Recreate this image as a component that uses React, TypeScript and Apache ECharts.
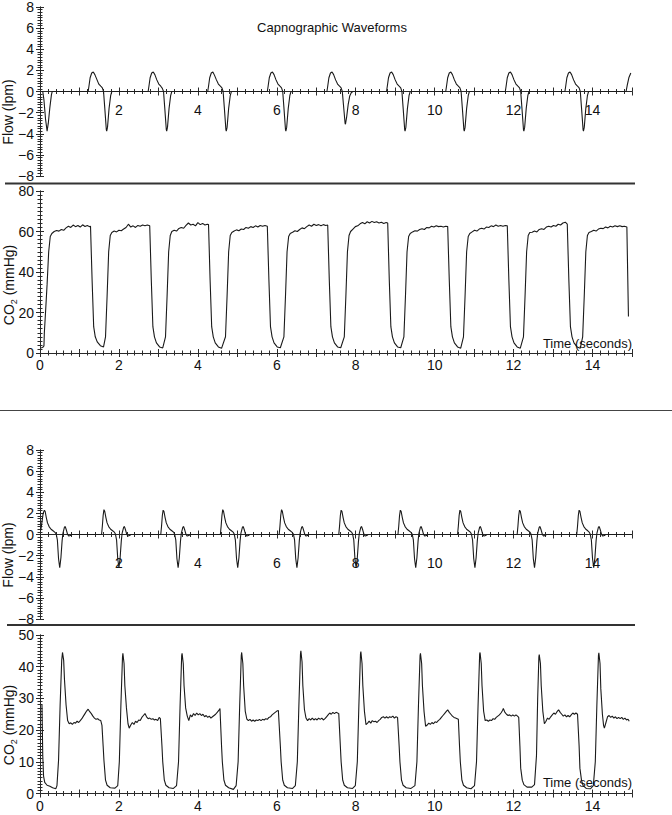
import React, { useEffect, useRef } from 'react';
import * as echarts from 'echarts';

// ---------- tick labels ----------
const X_LABELS_CO2 = [0, 2, 4, 6, 8, 10, 12, 14];
const X_LABELS_FLOW = [2, 4, 6, 8, 10, 12, 14];
const FLOW_TICKS = [-8, -6, -4, -2, 0, 2, 4, 6, 8];
const CO2_TOP_TICKS = [0, 20, 40, 60, 80];
const CO2_BOTTOM_TICKS = [0, 10, 20, 30, 40, 50];

// ---------- series values: [time (s), value] ----------
const FLOW_TOP: [number, number][] = [
  [0.02, 0], [0.07, 0], [0.10, -0.8], [0.14, -2.6], [0.18, -3.75], [0.21, -3.0], [0.25, -1.5], [0.29, -0.3], [0.31, 0],
  [1.22, 0], [1.24, 0.5], [1.27, 1.3], [1.31, 1.75], [1.35, 1.85], [1.39, 1.6], [1.44, 1.15], [1.49, 0.7], [1.54, 0.5], [1.58, 0.35], [1.61, 0], [1.64, -1.5], [1.68, -3.6], [1.69, -3.75], [1.71, -3.4], [1.75, -1.6], [1.79, -0.4], [1.82, 0],
  [2.74, 0], [2.76, 0.5], [2.79, 1.3], [2.83, 1.75], [2.87, 1.85], [2.91, 1.6], [2.96, 1.1], [3.01, 0.7], [3.06, 0.5], [3.10, 0.3], [3.13, 0], [3.16, -1.5], [3.20, -3.6], [3.21, -3.75], [3.23, -3.4], [3.27, -1.6], [3.31, -0.4], [3.34, 0],
  [4.25, 0], [4.27, 0.5], [4.30, 1.3], [4.34, 1.75], [4.38, 1.85], [4.42, 1.55], [4.47, 1.1], [4.52, 0.7], [4.57, 0.5], [4.61, 0.35], [4.64, 0], [4.67, -1.5], [4.71, -3.6], [4.72, -3.75], [4.74, -3.4], [4.78, -1.6], [4.82, -0.4], [4.85, 0],
  [5.76, 0], [5.78, 0.5], [5.81, 1.3], [5.85, 1.75], [5.89, 1.85], [5.93, 1.6], [5.98, 1.1], [6.03, 0.7], [6.08, 0.5], [6.12, 0.35], [6.15, 0], [6.18, -1.5], [6.22, -3.6], [6.23, -3.75], [6.25, -3.4], [6.29, -1.6], [6.33, -0.4], [6.36, 0],
  [7.27, 0], [7.29, 0.5], [7.32, 1.3], [7.36, 1.75], [7.40, 1.85], [7.44, 1.6], [7.49, 1.1], [7.54, 0.7], [7.59, 0.5], [7.63, 0.35], [7.66, 0], [7.69, -1.3], [7.73, -3.0], [7.74, -3.1], [7.77, -2.4], [7.81, -1.2], [7.85, -0.4], [7.89, -0.1], [7.93, 0],
  [8.78, 0], [8.80, 0.5], [8.83, 1.3], [8.87, 1.75], [8.91, 1.85], [8.95, 1.6], [9.00, 1.1], [9.05, 0.7], [9.10, 0.5], [9.14, 0.35], [9.17, 0], [9.20, -1.5], [9.24, -3.6], [9.25, -3.75], [9.27, -3.4], [9.31, -1.6], [9.35, -0.4], [9.38, 0],
  [10.28, 0], [10.30, 0.5], [10.33, 1.3], [10.37, 1.75], [10.41, 1.85], [10.45, 1.6], [10.50, 1.1], [10.55, 0.7], [10.60, 0.5], [10.64, 0.35], [10.67, 0], [10.70, -1.5], [10.74, -3.6], [10.75, -3.75], [10.77, -3.4], [10.81, -1.6], [10.85, -0.4], [10.88, 0],
  [11.79, 0], [11.81, 0.5], [11.84, 1.3], [11.88, 1.75], [11.92, 1.85], [11.96, 1.6], [12.01, 1.1], [12.06, 0.7], [12.11, 0.5], [12.15, 0.35], [12.18, 0], [12.21, -1.5], [12.25, -3.6], [12.26, -3.75], [12.28, -3.4], [12.32, -1.6], [12.36, -0.4], [12.39, 0],
  [13.30, 0], [13.32, 0.5], [13.35, 1.3], [13.39, 1.75], [13.43, 1.85], [13.47, 1.6], [13.52, 1.1], [13.57, 0.7], [13.62, 0.5], [13.66, 0.35], [13.69, 0], [13.72, -1.5], [13.76, -3.6], [13.77, -3.75], [13.79, -3.4], [13.83, -1.6], [13.87, -0.4], [13.90, 0],
  [14.85, 0], [14.88, 0.6], [14.92, 1.3], [14.97, 1.75],
];

const CO2_TOP: [number, number][] = [
  [0.03, 2.5], [0.07, 2.8], [0.10, 3.5], [0.11, 10], [0.14, 20], [0.18, 34], [0.22, 50], [0.26, 57.5], [0.30, 59],
  [0.36, 60], [0.42, 60.5], [0.48, 60.2], [0.54, 61], [0.60, 60.6], [0.66, 61.8], [0.72, 62.6], [0.78, 62], [0.84, 63.2], [0.90, 62.4], [0.96, 63], [1.02, 62.2], [1.08, 63.3], [1.14, 62.5], [1.20, 63], [1.25, 62.4], [1.28, 62.6],
  [1.32, 36], [1.36, 13], [1.40, 8], [1.45, 5.5], [1.53, 3.6], [1.61, 3], [1.66, 8], [1.70, 28], [1.74, 50], [1.78, 58], [1.82, 59.5],
  [1.88, 60.2], [1.94, 59.8], [2.00, 60.6], [2.06, 60.4], [2.12, 61.2], [2.18, 62], [2.24, 63.6], [2.30, 62.2], [2.36, 62.8], [2.42, 62], [2.48, 63], [2.54, 62.6], [2.60, 63.2], [2.66, 62.8], [2.72, 63.2], [2.78, 62.8],
  [2.82, 36], [2.86, 13], [2.90, 8], [2.95, 5], [3.03, 3], [3.11, 2.5], [3.18, 8], [3.22, 28], [3.26, 50], [3.30, 58], [3.34, 60],
  [3.40, 60.6], [3.46, 60.2], [3.52, 61.5], [3.58, 62], [3.64, 61.6], [3.70, 63], [3.76, 64.2], [3.82, 63.2], [3.88, 63.6], [3.94, 62.8], [4.00, 64.4], [4.06, 63.4], [4.12, 64], [4.18, 63.2], [4.24, 63.6], [4.27, 63.4],
  [4.31, 36], [4.35, 13], [4.39, 8], [4.44, 5], [4.52, 3], [4.60, 2.3], [4.70, 8], [4.74, 28], [4.78, 50], [4.82, 58], [4.86, 59.5],
  [4.92, 60.2], [4.98, 60.8], [5.04, 60.4], [5.10, 61.2], [5.16, 61], [5.22, 62], [5.28, 61.6], [5.34, 62.4], [5.40, 62], [5.46, 62.8], [5.52, 62.2], [5.58, 63], [5.64, 62.6], [5.70, 63], [5.76, 62.6],
  [5.80, 36], [5.84, 13], [5.88, 8], [5.93, 5], [6.01, 3], [6.09, 2.6], [6.18, 8], [6.22, 28], [6.26, 50], [6.30, 57.5], [6.34, 59],
  [6.40, 59.6], [6.46, 60.4], [6.52, 60], [6.58, 61], [6.64, 61.8], [6.70, 61.4], [6.76, 62.4], [6.82, 63.2], [6.88, 62.6], [6.94, 63.6], [7.00, 63], [7.06, 63.4], [7.12, 62.8], [7.18, 63.4], [7.24, 63], [7.29, 63.2],
  [7.33, 36], [7.37, 13], [7.41, 8], [7.46, 5], [7.54, 3], [7.62, 2.6], [7.71, 8], [7.75, 28], [7.79, 50], [7.83, 58], [7.87, 60],
  [7.93, 61.2], [7.99, 62.4], [8.05, 62.8], [8.11, 63.8], [8.17, 64.4], [8.23, 63.8], [8.29, 64.8], [8.35, 64.2], [8.41, 65], [8.47, 64.4], [8.53, 64.8], [8.59, 64.2], [8.65, 64.6], [8.71, 64], [8.77, 64.4], [8.81, 64.2],
  [8.85, 36], [8.89, 13], [8.93, 8], [8.98, 5], [9.06, 3], [9.14, 2.6], [9.22, 8], [9.26, 28], [9.30, 50], [9.34, 57.5], [9.38, 59],
  [9.44, 59.8], [9.50, 60.4], [9.56, 60.2], [9.62, 61], [9.68, 61.4], [9.74, 61], [9.80, 62], [9.86, 61.8], [9.92, 62.6], [9.98, 62.2], [10.04, 62.8], [10.10, 62.4], [10.16, 62.6], [10.22, 62.2], [10.28, 62.6], [10.33, 62.4],
  [10.37, 36], [10.41, 13], [10.45, 8], [10.50, 5], [10.58, 3], [10.66, 2.4], [10.73, 8], [10.77, 28], [10.81, 50], [10.85, 57.5], [10.89, 59],
  [10.95, 59.8], [11.01, 60.6], [11.07, 60.2], [11.13, 61.2], [11.19, 61.6], [11.25, 61.2], [11.31, 62.2], [11.37, 62], [11.43, 62.8], [11.49, 62.4], [11.55, 63.2], [11.61, 62.6], [11.67, 63], [11.73, 62.6], [11.79, 63], [11.84, 62.8],
  [11.88, 36], [11.92, 13], [11.96, 8], [12.01, 5], [12.09, 3], [12.17, 2.4], [12.25, 8], [12.29, 28], [12.33, 50], [12.37, 58], [12.41, 59.5],
  [12.47, 59.6], [12.53, 60.2], [12.59, 59.8], [12.65, 61], [12.71, 61.4], [12.77, 61], [12.83, 62.2], [12.89, 62.6], [12.95, 62.2], [13.01, 63], [13.07, 62.6], [13.13, 63.6], [13.19, 63.2], [13.25, 64.2], [13.31, 64.6], [13.36, 63.6],
  [13.40, 36], [13.44, 13], [13.48, 8], [13.53, 5], [13.61, 3], [13.69, 2.4], [13.75, 8], [13.79, 28], [13.83, 50], [13.87, 58], [13.91, 59.5],
  [13.97, 60], [14.03, 60.6], [14.09, 60.2], [14.15, 61.2], [14.21, 61.6], [14.27, 61.4], [14.33, 62.2], [14.39, 61.8], [14.45, 62.6], [14.51, 62.2], [14.57, 62.8], [14.63, 62.4], [14.69, 62.8], [14.75, 62.4], [14.81, 62.6], [14.87, 62.2],
  [14.89, 40], [14.91, 18],
];

const FLOW_BOTTOM: [number, number][] = [
  [0.02, 0.4], [0.05, 1.2], [0.08, 2.0], [0.11, 2.3], [0.13, 2.2], [0.16, 1.6], [0.19, 1.1], [0.23, 0.75], [0.28, 0.5], [0.33, 0.35], [0.38, 0.2], [0.41, 0.05], [0.44, -0.5], [0.47, -2.3], [0.50, -3.15], [0.53, -2.2], [0.56, -0.6], [0.58, 0.1], [0.62, 0.7], [0.64, 0.75], [0.67, 0.4], [0.70, 0], [0.73, -0.15], [0.77, -0.1], [0.80, 0],
  [1.56, 0], [1.58, 0.8], [1.60, 1.8], [1.62, 2.35], [1.64, 2.2], [1.67, 1.6], [1.70, 1.1], [1.74, 0.75], [1.79, 0.5], [1.84, 0.35], [1.89, 0.2], [1.91, 0.05], [1.94, -0.5], [1.97, -2.3], [2.00, -3.15], [2.03, -2.2], [2.06, -0.6], [2.08, 0.1], [2.12, 0.7], [2.14, 0.75], [2.17, 0.4], [2.20, 0], [2.23, -0.15], [2.27, -0.1], [2.30, 0],
  [3.06, 0], [3.08, 0.8], [3.10, 1.8], [3.12, 2.3], [3.14, 2.2], [3.17, 1.6], [3.20, 1.1], [3.24, 0.75], [3.29, 0.5], [3.34, 0.35], [3.39, 0.2], [3.41, 0.05], [3.44, -0.5], [3.47, -2.3], [3.50, -3.15], [3.53, -2.2], [3.56, -0.6], [3.58, 0.1], [3.62, 0.7], [3.64, 0.75], [3.67, 0.4], [3.70, 0], [3.73, -0.15], [3.77, -0.1], [3.80, 0],
  [4.57, 0], [4.59, 0.8], [4.61, 1.8], [4.63, 2.35], [4.65, 2.2], [4.68, 1.6], [4.71, 1.1], [4.75, 0.75], [4.80, 0.5], [4.85, 0.35], [4.90, 0.2], [4.92, 0.05], [4.95, -0.5], [4.98, -2.3], [5.01, -3.15], [5.04, -2.2], [5.07, -0.6], [5.09, 0.1], [5.13, 0.7], [5.15, 0.75], [5.18, 0.4], [5.21, 0], [5.24, -0.15], [5.28, -0.1], [5.31, 0],
  [6.06, 0], [6.08, 0.8], [6.10, 1.8], [6.12, 2.35], [6.14, 2.2], [6.17, 1.6], [6.20, 1.1], [6.24, 0.75], [6.29, 0.5], [6.34, 0.35], [6.39, 0.2], [6.42, 0.05], [6.45, -0.5], [6.48, -2.3], [6.51, -3.15], [6.54, -2.2], [6.57, -0.6], [6.59, 0.1], [6.63, 0.7], [6.65, 0.75], [6.68, 0.4], [6.71, 0], [6.74, -0.15], [6.78, -0.1], [6.81, 0],
  [7.57, 0], [7.59, 0.8], [7.61, 1.8], [7.63, 2.3], [7.65, 2.2], [7.68, 1.6], [7.71, 1.1], [7.75, 0.75], [7.80, 0.5], [7.85, 0.35], [7.90, 0.2], [7.92, 0.05], [7.95, -0.5], [7.98, -2.3], [8.01, -3.15], [8.04, -2.2], [8.07, -0.6], [8.09, 0.1], [8.13, 0.7], [8.15, 0.75], [8.18, 0.4], [8.21, 0], [8.24, -0.15], [8.28, -0.1], [8.31, 0],
  [9.07, 0], [9.09, 0.8], [9.11, 1.8], [9.13, 2.3], [9.15, 2.2], [9.18, 1.6], [9.21, 1.1], [9.25, 0.75], [9.30, 0.5], [9.35, 0.35], [9.40, 0.2], [9.43, 0.05], [9.46, -0.5], [9.49, -2.3], [9.52, -3.15], [9.55, -2.2], [9.58, -0.6], [9.60, 0.1], [9.64, 0.7], [9.66, 0.75], [9.69, 0.4], [9.72, 0], [9.75, -0.15], [9.79, -0.1], [9.82, 0],
  [10.58, 0], [10.60, 0.8], [10.62, 1.8], [10.64, 2.3], [10.66, 2.2], [10.69, 1.6], [10.72, 1.1], [10.76, 0.75], [10.81, 0.5], [10.86, 0.35], [10.91, 0.2], [10.93, 0.05], [10.96, -0.5], [10.99, -2.3], [11.02, -3.15], [11.05, -2.2], [11.08, -0.6], [11.10, 0.1], [11.14, 0.7], [11.16, 0.75], [11.19, 0.4], [11.22, 0], [11.25, -0.15], [11.29, -0.1], [11.32, 0],
  [12.09, 0], [12.11, 0.8], [12.13, 1.8], [12.15, 2.3], [12.17, 2.2], [12.20, 1.6], [12.23, 1.1], [12.27, 0.75], [12.32, 0.5], [12.37, 0.35], [12.42, 0.2], [12.44, 0.05], [12.47, -0.5], [12.50, -2.3], [12.53, -3.15], [12.56, -2.2], [12.59, -0.6], [12.61, 0.1], [12.65, 0.7], [12.67, 0.75], [12.70, 0.4], [12.73, 0], [12.76, -0.15], [12.80, -0.1], [12.83, 0],
  [13.60, 0], [13.62, 0.8], [13.64, 1.8], [13.66, 2.3], [13.68, 2.2], [13.71, 1.6], [13.74, 1.1], [13.78, 0.75], [13.83, 0.5], [13.88, 0.35], [13.92, 0.2], [13.94, 0.05], [13.97, -0.5], [14.00, -2.3], [14.03, -3.15], [14.06, -2.2], [14.09, -0.6], [14.11, 0.1], [14.15, 0.7], [14.17, 0.75], [14.20, 0.4], [14.23, 0], [14.26, -0.15], [14.30, -0.1], [14.33, 0], [14.98, 0],
];

const CO2_BOTTOM: [number, number][] = [
  [0.05, 28], [0.07, 12], [0.09, 5.5], [0.12, 3.5], [0.18, 2.6], [0.25, 2.3], [0.32, 1.8], [0.40, 1.5], [0.43, 2.5], [0.47, 10.5], [0.51, 28], [0.55, 42], [0.57, 44.5], [0.60, 42], [0.62, 36], [0.66, 28], [0.70, 23], [0.74, 22],
  [0.78, 22.3], [0.82, 21.8], [0.86, 22.4], [0.90, 22.2], [0.94, 22.8], [0.98, 22.4], [1.02, 23], [1.06, 23.6], [1.10, 24.4], [1.14, 25.2], [1.18, 26], [1.22, 26.6], [1.26, 25.8], [1.30, 25.2], [1.34, 24.4], [1.38, 23.8], [1.42, 23.4], [1.46, 23.6], [1.50, 23.2], [1.54, 23], [1.57, 21.5],
  [1.60, 15], [1.62, 10.5], [1.66, 4.2], [1.70, 2.6], [1.78, 1.8], [1.90, 1.7], [1.97, 2.5], [2.01, 10], [2.05, 28], [2.09, 43], [2.10, 44.2], [2.13, 41], [2.15, 34], [2.19, 27], [2.23, 22], [2.26, 20.6],
  [2.30, 21.6], [2.34, 22.4], [2.38, 21.8], [2.42, 22.8], [2.46, 22.4], [2.50, 23.2], [2.54, 23], [2.58, 24], [2.62, 24.6], [2.66, 25.2], [2.70, 24.2], [2.74, 23.6], [2.78, 23.8], [2.82, 23.4], [2.86, 23.6], [2.90, 23.2], [2.94, 23.4], [2.98, 23], [3.02, 24], [3.05, 23.6],
  [3.09, 15], [3.11, 10], [3.15, 4.2], [3.19, 2.6], [3.27, 1.8], [3.38, 1.6], [3.46, 2.5], [3.51, 10], [3.55, 28], [3.59, 43.5], [3.60, 44.2], [3.63, 41], [3.65, 34], [3.69, 27], [3.73, 24.5],
  [3.77, 23], [3.81, 24.8], [3.85, 24.2], [3.89, 25.2], [3.93, 24.6], [3.97, 25.4], [4.01, 24.8], [4.05, 25.2], [4.09, 24.6], [4.13, 25], [4.17, 24.2], [4.21, 24.6], [4.25, 24], [4.29, 24.4], [4.33, 23.8], [4.37, 24.2], [4.41, 24.6], [4.45, 25], [4.49, 25.6], [4.53, 26.2], [4.56, 26.8],
  [4.60, 15], [4.62, 10], [4.66, 4.2], [4.70, 2.6], [4.78, 1.8], [4.90, 1.3], [4.97, 2.5], [5.02, 10], [5.06, 28], [5.10, 43.5], [5.11, 44.5], [5.14, 41], [5.16, 34], [5.20, 26], [5.24, 23.5],
  [5.28, 23], [5.32, 23.4], [5.36, 22.8], [5.40, 23.2], [5.44, 22.8], [5.48, 23.2], [5.52, 23], [5.56, 23.4], [5.60, 23], [5.64, 23.4], [5.68, 23.2], [5.72, 23.6], [5.76, 23.4], [5.80, 24], [5.84, 24.2], [5.88, 24.8], [5.92, 25.2], [5.96, 25.6], [6.00, 26], [6.04, 26.2],
  [6.09, 15], [6.11, 10], [6.15, 4.2], [6.19, 2.6], [6.27, 1.8], [6.40, 1.6], [6.47, 2.5], [6.52, 10], [6.56, 28], [6.60, 44], [6.61, 45], [6.64, 41.5], [6.66, 34], [6.70, 26.5], [6.74, 23.8],
  [6.78, 23], [6.82, 23.6], [6.86, 23.2], [6.90, 23.8], [6.94, 23.2], [6.98, 23.6], [7.02, 23.2], [7.06, 23.8], [7.10, 23.4], [7.14, 23.8], [7.18, 23.2], [7.22, 23.6], [7.26, 24.2], [7.30, 24.8], [7.34, 25.4], [7.38, 25], [7.42, 25.6], [7.46, 25.2], [7.50, 25.6], [7.54, 25.4], [7.57, 25.2],
  [7.61, 15], [7.63, 10], [7.67, 4.2], [7.71, 2.6], [7.79, 1.8], [7.92, 1.6], [7.99, 2.5], [8.04, 10], [8.08, 28], [8.12, 44], [8.13, 44.8], [8.16, 41], [8.18, 34], [8.22, 26], [8.26, 21.7],
  [8.30, 22.2], [8.34, 22.8], [8.38, 22.2], [8.42, 23], [8.46, 22.6], [8.50, 22.8], [8.54, 22.4], [8.58, 23], [8.62, 23.4], [8.66, 24], [8.70, 24.2], [8.74, 23.8], [8.78, 24.2], [8.82, 23.8], [8.86, 24.2], [8.90, 24], [8.94, 24.4], [8.98, 23.8], [9.02, 24.2], [9.06, 24],
  [9.10, 15], [9.12, 10], [9.16, 4.2], [9.20, 2.6], [9.28, 1.8], [9.40, 1.6], [9.50, 2.5], [9.55, 10], [9.59, 28], [9.63, 43.5], [9.64, 44.2], [9.67, 41], [9.69, 34], [9.73, 26], [9.77, 21.2],
  [9.81, 21.6], [9.85, 22.2], [9.89, 21.8], [9.93, 22.4], [9.97, 22], [10.01, 22.6], [10.05, 22.4], [10.09, 23], [10.13, 23.4], [10.17, 24], [10.21, 24.6], [10.25, 25.2], [10.29, 25.8], [10.33, 26.4], [10.37, 25.6], [10.41, 25], [10.45, 24.4], [10.49, 24], [10.53, 23.8], [10.57, 23.6], [10.60, 23.4],
  [10.63, 15], [10.65, 10], [10.69, 4.2], [10.73, 2.6], [10.81, 1.8], [10.92, 1.5], [11.01, 2.5], [11.06, 10], [11.10, 28], [11.14, 44], [11.15, 44.5], [11.18, 41], [11.20, 34], [11.24, 26], [11.28, 23],
  [11.32, 23.2], [11.36, 22.8], [11.40, 23.2], [11.44, 23], [11.48, 23.6], [11.52, 23.4], [11.56, 24], [11.60, 24.4], [11.64, 24.8], [11.68, 25.4], [11.72, 26.2], [11.74, 26.8], [11.78, 25.6], [11.82, 25], [11.86, 24.6], [11.90, 24.8], [11.94, 24.4], [11.98, 24.8], [12.02, 24.4], [12.06, 24.8], [12.10, 24.4], [12.13, 24],
  [12.16, 15], [12.18, 8], [12.22, 4.2], [12.26, 2.8], [12.34, 2], [12.46, 2], [12.53, 2.8], [12.58, 12], [12.61, 30], [12.64, 43], [12.65, 43.8], [12.68, 41], [12.70, 34], [12.74, 26], [12.78, 22],
  [12.82, 22.8], [12.86, 23.8], [12.90, 23.4], [12.94, 24.2], [12.98, 24.8], [13.02, 25.4], [13.06, 25], [13.10, 25.8], [13.14, 26.4], [13.18, 25.6], [13.22, 25], [13.26, 24.4], [13.30, 24.8], [13.34, 24.2], [13.38, 24.6], [13.42, 24.2], [13.46, 24.8], [13.50, 25.4], [13.54, 25], [13.58, 25.4], [13.62, 25],
  [13.66, 15], [13.68, 8], [13.72, 4.2], [13.76, 2.5], [13.84, 1.6], [13.95, 1.5], [14.02, 2.5], [14.07, 10], [14.11, 28], [14.15, 43.5], [14.16, 44.4], [14.19, 41], [14.21, 33], [14.25, 25], [14.28, 21.5], [14.30, 20.6],
  [14.34, 22.4], [14.38, 24.2], [14.42, 24.6], [14.46, 24], [14.50, 24.4], [14.54, 23.8], [14.58, 24.2], [14.62, 23.6], [14.66, 24], [14.70, 23.6], [14.74, 24], [14.78, 23.4], [14.82, 23.8], [14.86, 23.2], [14.90, 23.4], [14.93, 22.8],
];

// ---------- styling ----------
const FONT = '"Liberation Sans", Arial, Helvetica, sans-serif';
const INK = '#1a1a1a';
const AXIS = '#2a2a2a';
const TICK_FONT = 14;

const fmtSigned = (v: number) => (v < 0 ? '\u2212' + Math.abs(v) : String(v));

type PanelSpec = {
  top: number;
  height: number;
  min: number;
  max: number;
  interval: number;
  minorSplit: number;
  yTicks: number[];
  xLabels: number[];
  flow: boolean;
  xLabelMargin: number;
};

const PANELS: PanelSpec[] = [
  { top: 7, height: 169, min: -8, max: 8, interval: 2, minorSplit: 8, yTicks: FLOW_TICKS, xLabels: X_LABELS_FLOW, flow: true, xLabelMargin: 11 },
  { top: 191, height: 162, min: 0, max: 80, interval: 20, minorSplit: 10, yTicks: CO2_TOP_TICKS, xLabels: X_LABELS_CO2, flow: false, xLabelMargin: 5 },
  { top: 450, height: 169, min: -8, max: 8, interval: 2, minorSplit: 8, yTicks: FLOW_TICKS, xLabels: X_LABELS_FLOW, flow: true, xLabelMargin: 21 },
  { top: 635, height: 158.5, min: 0, max: 50, interval: 10, minorSplit: 10, yTicks: CO2_BOTTOM_TICKS, xLabels: X_LABELS_CO2, flow: false, xLabelMargin: 5 },
];

const SERIES_DATA = [FLOW_TOP, CO2_TOP, FLOW_BOTTOM, CO2_BOTTOM];

function buildOption() {
  const grid: any[] = [];
  const xAxis: any[] = [];
  const yAxis: any[] = [];
  const series: any[] = [];
  const lineStyle = { color: AXIS, width: 1 };

  PANELS.forEach((p, i) => {
    grid.push({ left: 40, width: 592, top: p.top, height: p.height, show: false });
    // flow panels: the time axis crosses at flow = 0 (middle of the symmetric range)
    const xOffset = p.flow ? -p.height / 2 : 0;
    [false, true].forEach((inside) => {
      xAxis.push({
        type: 'value',
        gridIndex: i,
        position: 'bottom',
        offset: xOffset,
        min: 0,
        max: 15,
        interval: 1,
        splitLine: { show: false },
        axisLine: { show: true, onZero: false, lineStyle },
        axisTick: { show: true, inside, length: 4, lineStyle },
        minorTick: { show: true, splitNumber: 5, length: 2.5, lineStyle },
        axisLabel: {
          show: !inside,
          margin: p.xLabelMargin,
          fontSize: TICK_FONT,
          fontFamily: FONT,
          color: '#111',
          formatter: (v: number) => (p.xLabels.includes(v) ? String(v) : ''),
        },
      });
    });
    [false, true].forEach((inside) => {
      yAxis.push({
        type: 'value',
        gridIndex: i,
        position: 'left',
        min: p.min,
        max: p.max,
        interval: p.interval,
        splitLine: { show: false },
        axisLine: { show: true, onZero: false, lineStyle },
        axisTick: { show: true, inside, length: 4, lineStyle },
        minorTick: { show: true, splitNumber: p.minorSplit, length: 2.5, lineStyle },
        axisLabel: {
          show: !inside,
          margin: 6,
          fontSize: TICK_FONT,
          fontFamily: FONT,
          color: '#111',
          formatter: (v: number) => (p.yTicks.includes(v) ? fmtSigned(v) : ''),
        },
      });
    });
    series.push({
      type: 'line',
      xAxisIndex: i * 2,
      yAxisIndex: i * 2,
      data: SERIES_DATA[i],
      showSymbol: false,
      symbol: 'none',
      lineStyle: { color: INK, width: 1.1 },
      z: 5,
    });
  });

  const textStyle = (extra: any) => ({
    fill: '#111',
    fontSize: 13,
    fontFamily: FONT,
    ...extra,
  });
  const centered = { align: 'center', verticalAlign: 'middle', textAlign: 'center', textVerticalAlign: 'middle' };
  const rightMid = { align: 'right', verticalAlign: 'middle', textAlign: 'right', textVerticalAlign: 'middle' };

  const co2Rich = {
    a: { fontSize: 14, fontFamily: FONT, fill: '#111', color: '#111', lineHeight: 19 },
    s: { fontSize: 9, fontFamily: FONT, fill: '#111', color: '#111', lineHeight: 9, verticalAlign: 'bottom' },
  };

  const graphic: any[] = [
    { type: 'text', x: 332, y: 27, style: textStyle({ text: 'Capnographic Waveforms', ...centered }) },
    { type: 'text', x: 8, y: 112, rotation: Math.PI / 2, style: textStyle({ text: 'Flow (lpm)', fontSize: 14, ...centered }) },
    { type: 'text', x: 8, y: 555, rotation: Math.PI / 2, style: textStyle({ text: 'Flow (lpm)', fontSize: 14, ...centered }) },
    { type: 'text', x: 9, y: 285, rotation: Math.PI / 2, style: textStyle({ text: '{a|CO}{s|2}{a| (mmHg)}', rich: co2Rich, ...centered }) },
    { type: 'text', x: 9, y: 725, rotation: Math.PI / 2, style: textStyle({ text: '{a|CO}{s|2}{a| (mmHg)}', rich: co2Rich, ...centered }) },
    { type: 'text', x: 632, y: 343, z: 10, style: textStyle({ text: 'Time (seconds)', ...rightMid }) },
    { type: 'text', x: 632, y: 782, z: 10, style: textStyle({ text: 'Time (seconds)', ...rightMid }) },
    { type: 'line', shape: { x1: 5, y1: 183.5, x2: 635, y2: 183.5 }, style: { stroke: '#333', lineWidth: 2 } },
    { type: 'line', shape: { x1: 0, y1: 410.5, x2: 672, y2: 410.5 }, style: { stroke: '#444', lineWidth: 1 } },
    { type: 'line', shape: { x1: 7, y1: 625, x2: 635, y2: 625 }, style: { stroke: '#333', lineWidth: 2 } },
  ];

  return {
    animation: false,
    backgroundColor: '#ffffff',
    textStyle: { fontFamily: FONT },
    grid,
    xAxis,
    yAxis,
    series,
    graphic,
  };
}

export default function App() {
  const ref = useRef<HTMLDivElement>(null);
  useEffect(() => {
    if (!ref.current) return;
    const chart = echarts.init(ref.current, undefined, { renderer: 'svg' });
    chart.setOption(buildOption() as any);
    return () => chart.dispose();
  }, []);
  return (
    <div
      ref={ref}
      style={{ position: 'absolute', left: 0, top: 0, width: 672, height: 815, background: '#fff' }}
    />
  );
}
